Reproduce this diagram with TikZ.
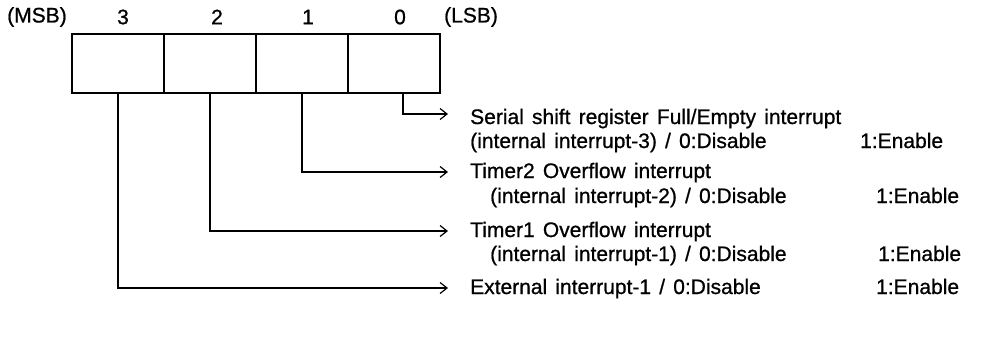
\documentclass[tikz,border=0pt]{standalone}
\usepackage{fontspec}
\setmainfont[FakeBold=0.8]{Liberation Sans}
\newfontfamily\descfont[WordSpace=1.4,FakeBold=0.8]{Liberation Sans}
\usetikzlibrary{arrows.meta}
\begin{document}
\begin{tikzpicture}[x=1pt,y=-1pt,
  cell/.style={draw,line width=1.8pt,minimum width=92pt,minimum height=59pt,inner sep=0pt,anchor=north west},
  lbl/.style={font=\fontsize{21}{24}\selectfont,inner sep=0pt},
  txt/.style={font=\descfont\fontsize{21}{24}\selectfont,inner sep=0pt,anchor=base west},
  conn/.style={line width=1.2pt,-{Straight Barb[length=7pt,width=11pt,line width=1.2pt]}}]
\useasboundingbox (0,0) rectangle (982,341);
% register cells
\node[cell] (b3) at (71,33) {};
\node[cell] (b2) at (163,33) {};
\node[cell] (b1) at (255,33) {};
\node[cell] (b0) at (347,33) {};
% header
\node[lbl] (msb) at (37,17) {(MSB)};
\node[lbl] (n3) at (123,17) {3};
\node[lbl] (n2) at (217,17) {2};
\node[lbl] (n1) at (308,17) {1};
\node[lbl] (n0) at (400,17) {0};
\node[lbl,anchor=west] (lsb) at (444,17) {(LSB)};
% descriptions
\node[txt] (t0a) at (470,124) {Serial shift register Full/Empty interrupt};
\node[txt] (t0b) at (470,148) {(internal interrupt-3) / 0:Disable};
\node[txt] (t0c) at (860,148) {1:Enable};
\node[txt] (t1a) at (470,178) {Timer2 Overflow interrupt};
\node[txt] (t1b) at (490,203) {(internal interrupt-2) / 0:Disable};
\node[txt] (t1c) at (876,203) {1:Enable};
\node[txt] (t2a) at (470,237) {Timer1 Overflow interrupt};
\node[txt] (t2b) at (490,261) {(internal interrupt-1) / 0:Disable};
\node[txt] (t2c) at (878,261) {1:Enable};
\node[txt] (t3a) at (470,294) {External interrupt-1 / 0:Disable};
\node[txt] (t3c) at (876,294) {1:Enable};
% arrow end points
\coordinate (e0) at (448,114);
\coordinate (e1) at (448,172);
\coordinate (e2) at (448,231);
\coordinate (e3) at (448,288);
% connectors
\draw[conn] ([xshift=9pt]b0.south) |- (e0);
\draw[conn] (b1.south) |- (e1);
\draw[conn] (b2.south) |- (e2);
\draw[conn] (b3.south) |- (e3);
\end{tikzpicture}
\end{document}
